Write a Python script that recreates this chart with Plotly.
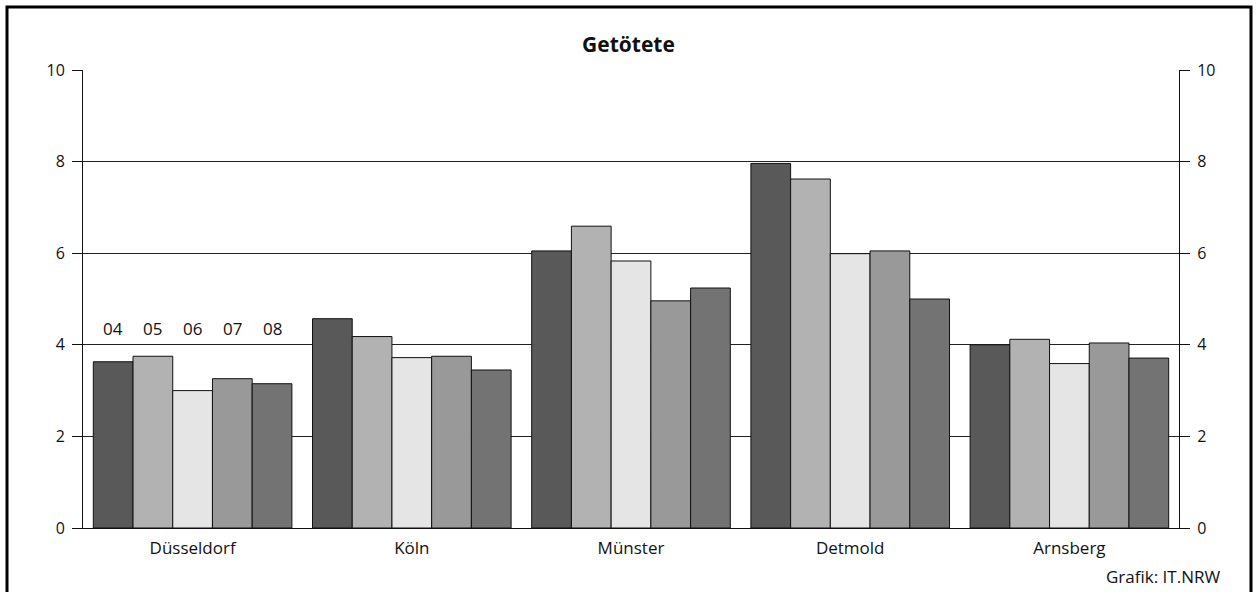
import plotly.graph_objects as go

categories = ["Düsseldorf", "Köln", "Münster", "Detmold", "Arnsberg"]
years = ["04", "05", "06", "07", "08"]
values_04 = [3.63, 4.57, 6.05, 7.96, 4.00]
values_05 = [3.75, 4.18, 6.59, 7.62, 4.12]
values_06 = [3.00, 3.72, 5.83, 5.99, 3.59]
values_07 = [3.26, 3.75, 4.96, 6.05, 4.04]
values_08 = [3.15, 3.45, 5.24, 5.00, 3.71]
series = [values_04, values_05, values_06, values_07, values_08]
colors = ["#595959", "#b2b2b2", "#e5e5e5", "#999999", "#737373"]
y_ticks = [0, 2, 4, 6, 8, 10]

FONT = "Open Sans"
TXT = "#111111"
W, H = 1257, 592
ML, MR, MT, MB = 83, 78, 70, 64
PW, PH = W - ML - MR, H - MT - MB
BARGAP = 0.094

fig = go.Figure()
for yr, vals, col in zip(years, series, colors):
    fig.add_trace(go.Bar(
        x=categories, y=vals, name=yr,
        marker=dict(color=col, line=dict(color="#111111", width=1)),
        showlegend=False,
    ))
# invisible trace to activate right axis
fig.add_trace(go.Scatter(x=categories, y=[None] * len(categories), yaxis="y2",
                         showlegend=False, hoverinfo="skip"))

bw = (1 - BARGAP) / len(years)
for i, yr in enumerate(years):
    fig.add_annotation(x=(i - 2) * bw, y=4.35, xref="x", yref="y", text=yr,
                       showarrow=False, font=dict(family=FONT, size=17, color=TXT),
                       yanchor="middle")

fig.add_annotation(xref="paper", yref="paper",
                   x=(1222 - ML) / PW, y=(MT + PH - 576) / PH,
                   text="Grafik: IT.NRW", showarrow=False, xanchor="right", yanchor="middle",
                   font=dict(family=FONT, size=17, color=TXT))

axis_common = dict(range=[0, 10], tickvals=y_ticks, ticks="outside", ticklen=10,
                   tickcolor="#111111", tickwidth=1, showline=True, linecolor="#111111",
                   linewidth=1, tickfont=dict(family=FONT, size=16, color=TXT),
                   ticklabelstandoff=4, zeroline=False, fixedrange=True)

fig.update_layout(
    width=W, height=H,
    margin=dict(l=ML, r=MR, t=MT, b=MB, pad=0),
    paper_bgcolor="white", plot_bgcolor="white",
    barmode="group", bargap=BARGAP, bargroupgap=0,
    title=dict(text="<b>Getötete</b>", x=0.5, xanchor="center", y=1 - 45 / H, yanchor="middle",
               font=dict(family=FONT, size=21, color=TXT)),
    xaxis=dict(showline=True, linecolor="#111111", linewidth=1, ticks="",
               tickfont=dict(family=FONT, size=17, color=TXT), showgrid=False,
               ticklabelstandoff=5, fixedrange=True),
    yaxis=dict(**axis_common, showgrid=True, gridcolor="#222222", gridwidth=1),
    yaxis2=dict(**axis_common, overlaying="y", side="right", showgrid=False),
    shapes=[dict(type="rect", xref="paper", yref="paper",
                 x0=(7 - ML) / PW, x1=(1251 - ML) / PW,
                 y0=-0.3, y1=(MT + PH - 7) / PH,
                 line=dict(color="black", width=3), fillcolor="rgba(0,0,0,0)", layer="above")],
)

fig.write_html("out.html", config={"displayModeBar": False},
               post_script="document.body.style.margin='0';document.body.style.overflow='hidden';")
